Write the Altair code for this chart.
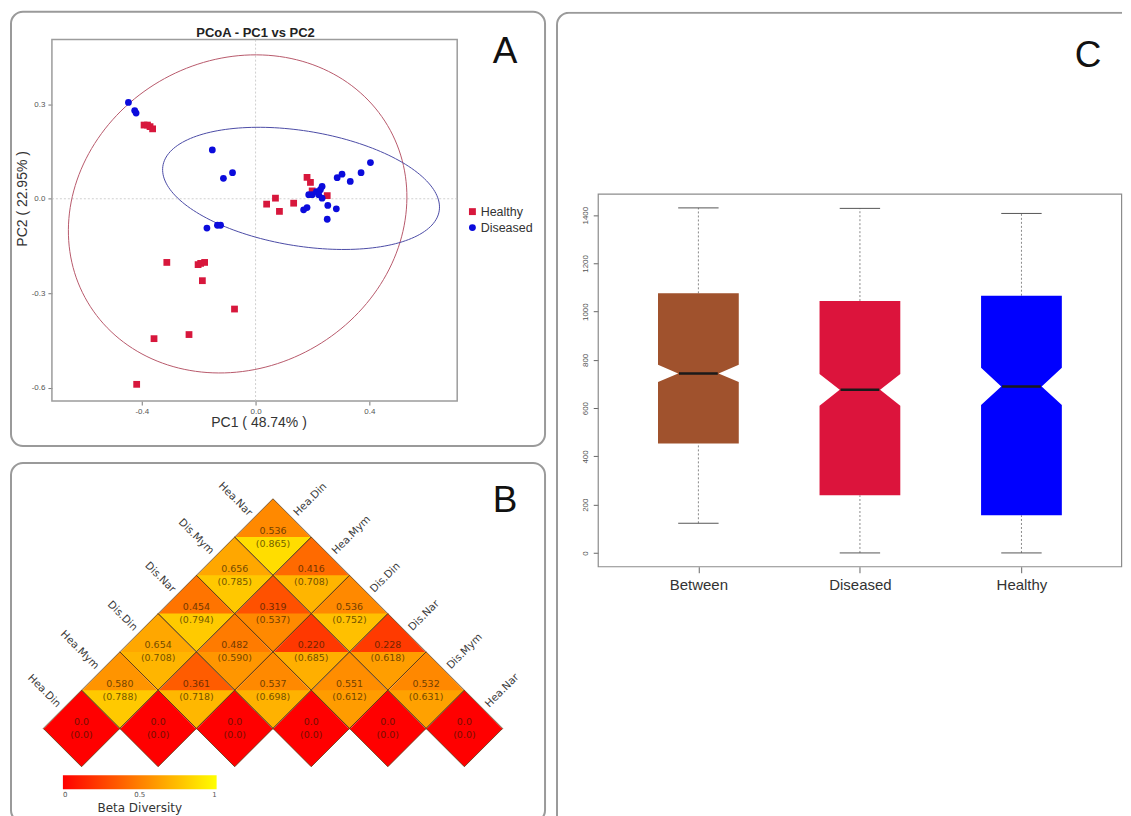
import altair as alt
import numpy as np
import pandas as pd

# ---------------- Panel A : PCoA data ----------------
healthy_pc1 = [-0.392, -0.380, -0.371, -0.362, 0.039, 0.070, 0.084, 0.134, 0.181, 0.193, 0.199, 0.252,
               -0.312, -0.202, -0.193, -0.179, -0.187, -0.074, -0.357, -0.234, -0.418]
healthy_pc2 = [0.234, 0.234, 0.229, 0.222, -0.017, 0.002, -0.040, -0.014, 0.068, 0.052, 0.025, 0.010,
               -0.202, -0.209, -0.205, -0.202, -0.260, -0.350, -0.444, -0.431, -0.589]
diseased_pc1 = [-0.447, -0.425, -0.420, -0.152, -0.113, -0.081, -0.171, -0.134, -0.123,
                0.187, 0.199, 0.214, 0.228, 0.234, 0.222, 0.234, 0.169, 0.181, 0.254, 0.284,
                0.252, 0.287, 0.304, 0.333, 0.371, 0.404]
diseased_pc2 = [0.306, 0.280, 0.272, 0.155, 0.065, 0.083, -0.093, -0.084, -0.084,
                0.013, 0.013, 0.023, 0.029, 0.039, 0.013, 0.002, -0.035, -0.028, -0.021, -0.032,
                -0.065, 0.067, 0.078, 0.055, 0.083, 0.115]
pcoa_groups = ["Healthy", "Diseased"]
pcoa_colors = ["#d7173c", "#0b0bdc"]
ellipse_colors = ["#b8596b", "#4b4ba6"]
ellipse_cx = [-0.063, 0.160]
ellipse_cy = [-0.048, 0.033]
ellipse_a = [0.603, 0.491]
ellipse_b = [0.4955, 0.183]
ellipse_angle = [16.4, -8.1]
pc1_lim = [-0.716, 0.709]
pc2_lim = [-0.642, 0.506]
pc1_ticks = [-0.4, 0.0, 0.4]
pc2_ticks = [-0.6, -0.3, 0.0, 0.3]

# ---------------- Panel B : beta diversity triangle ----------------
sites = ["Hea.Din", "Hea.Mym", "Dis.Din", "Dis.Nar", "Dis.Mym", "Hea.Nar"]
beta_main = [
    [0.0, 0.0, 0.0, 0.0, 0.0, 0.0],
    [0.580, 0.361, 0.537, 0.551, 0.532],
    [0.654, 0.482, 0.220, 0.228],
    [0.454, 0.319, 0.536],
    [0.656, 0.416],
    [0.536],
]
beta_paren = [
    [0.0, 0.0, 0.0, 0.0, 0.0, 0.0],
    [0.788, 0.718, 0.698, 0.612, 0.631],
    [0.708, 0.590, 0.685, 0.618],
    [0.794, 0.537, 0.752],
    [0.785, 0.708],
    [0.865],
]

# ---------------- Panel C : notched boxplots ----------------
box_groups = ["Between", "Diseased", "Healthy"]
box_low = [123, 0, 0]
box_q1 = [454, 239, 156]
box_median = [744, 676, 690]
box_q3 = [1076, 1044, 1066]
box_high = [1430, 1428, 1407]
box_notch = [36, 66, 77]
box_colors = ["#A0522D", "#DC143C", "#0000FF"]
box_ylim = [-57.2, 1487.2]
box_xlim = [0.38, 3.62]
box_yticks = [0, 200, 400, 600, 800, 1000, 1200, 1400]

FONT = "Liberation Sans"
FRAME_COL = "#9a9a9a"
frame = alt.ViewBackground(stroke=FRAME_COL, strokeWidth=2, cornerRadius=12, fill="white")
one = pd.DataFrame({"t": ["x"]})

# =============== Panel A ===============
A_W, A_H = 535, 435
A_left, A_right, A_top, A_bottom = 41, 447, 27.7, 390
sx = (pc1_lim[1] - pc1_lim[0]) / (A_right - A_left)
sy = (pc2_lim[1] - pc2_lim[0]) / (A_bottom - A_top)
xsA = alt.Scale(domain=[pc1_lim[0] - A_left * sx, pc1_lim[1] + (A_W - A_right) * sx], nice=False, zero=False)
ysA = alt.Scale(domain=[pc2_lim[0] - (A_H - A_bottom) * sy, pc2_lim[1] + A_top * sy], nice=False, zero=False)
minus_fix = "replace(format(datum.value, '.1f'), '\u2212', '-')"
axA_x = alt.Axis(values=pc1_ticks, offset=-(A_H - A_bottom), domain=False, grid=False, tickSize=4,
                 tickColor="#777", labelFontSize=8, labelColor="#555", labelPadding=2, labelFlush=False,
                 labelExpr=minus_fix, labelFont=FONT, title="PC1 ( 48.74% )", titleFont=FONT,
                 titleFontSize=14, titleFontWeight="normal", titleColor="#333", titlePadding=1, titleX=248)
axA_y = alt.Axis(values=pc2_ticks, offset=-A_left, domain=False, grid=False, tickSize=4,
                 tickColor="#777", labelFontSize=8, labelColor="#555", labelPadding=3, labelFlush=False,
                 labelAngle=0, labelExpr=minus_fix, labelFont=FONT, title="PC2 ( 22.95% )", titleFont=FONT,
                 titleFontSize=14, titleFontWeight="normal", titleColor="#333", titlePadding=2, titleY=187)


def XA(f):
    return alt.X(f, type="quantitative", scale=xsA, axis=axA_x)


def YA(f):
    return alt.Y(f, type="quantitative", scale=ysA, axis=axA_y)


pts = pd.DataFrame({
    "pc1": healthy_pc1 + diseased_pc1,
    "pc2": healthy_pc2 + diseased_pc2,
    "group": ["Healthy"] * len(healthy_pc1) + ["Diseased"] * len(diseased_pc1),
})

ell_rows = []
t = np.linspace(0, 2 * np.pi, 181)
for g, cx, cy, a, b, ang in zip(pcoa_groups, ellipse_cx, ellipse_cy, ellipse_a, ellipse_b, ellipse_angle):
    th = np.deg2rad(ang)
    ex = cx + a * np.cos(th) * np.cos(t) - b * np.sin(th) * np.sin(t)
    ey = cy + a * np.sin(th) * np.cos(t) + b * np.cos(th) * np.sin(t)
    for i, (u, v) in enumerate(zip(ex, ey)):
        ell_rows.append({"egroup": g, "ex": u, "ey": v, "o": i})
ell = pd.DataFrame(ell_rows)

boxA = pd.DataFrame({"x": [pc1_lim[0]], "x2": [pc1_lim[1]], "y": [pc2_lim[0]], "y2": [pc2_lim[1]]})
zeroA = pd.DataFrame({"x": [0.0], "y": [0.0], "xa": [pc1_lim[0]], "xb": [pc1_lim[1]],
                      "ya": [pc2_lim[0]], "yb": [pc2_lim[1]]})

a_box = alt.Chart(boxA).mark_rect(fillOpacity=0, stroke="#9c9c9c", strokeWidth=1.5).encode(
    x=XA("x"), x2="x2", y=YA("y"), y2="y2")
a_v0 = alt.Chart(zeroA).mark_rule(color="#c4c4c4", strokeDash=[2, 2], strokeWidth=0.8).encode(
    x=XA("x"), y=YA("ya"), y2="yb")
a_h0 = alt.Chart(zeroA).mark_rule(color="#c4c4c4", strokeDash=[2, 2], strokeWidth=0.8).encode(
    x=XA("xa"), x2="xb", y=YA("y"))
ell_layers = []
for g, c in zip(pcoa_groups, ellipse_colors):
    ell_layers.append(
        alt.Chart(ell).transform_filter(alt.datum.egroup == g).mark_line(strokeWidth=1, color=c).encode(
            x=XA("ex"), y=YA("ey"), order="o:Q"))
legA = alt.Legend(orient="none", legendX=456, legendY=194, labelFontSize=12.5, labelFont=FONT,
                  labelColor="#333", symbolSize=48, rowPadding=3, labelOffset=2, title="")
a_pts = alt.Chart(pts).mark_point(filled=True, size=46, opacity=1).encode(
    x=XA("pc1"), y=YA("pc2"),
    color=alt.Color("group:N", scale=alt.Scale(domain=pcoa_groups, range=pcoa_colors), legend=legA),
    shape=alt.Shape("group:N", scale=alt.Scale(domain=pcoa_groups, range=["square", "circle"]),
                    legend=legA))
a_title = alt.Chart(one).mark_text(text="PCoA - PC1 vs PC2", font=FONT, fontSize=13, fontWeight="bold",
                                   color="#222").encode(x=alt.value(245), y=alt.value(21))
a_letter = alt.Chart(one).mark_text(text="A", font=FONT, fontSize=37, color="#111").encode(
    x=alt.value(495), y=alt.value(40))
panelA = alt.layer(a_box, a_v0, a_h0, *ell_layers, a_pts, a_title, a_letter).properties(
    width=A_W, height=A_H, view=frame)

# =============== Panel B ===============
B_W, B_H = 535, 360
U = 76.7
x0B, y0B = 70.7, 266.0
xsB = alt.Scale(domain=[-x0B / U, (B_W - x0B) / U], nice=False, zero=False)
ysB = alt.Scale(domain=[-(B_H - y0B) / U, y0B / U], nice=False, zero=False)
cells = []
for r, (tops, bots) in enumerate(zip(beta_main, beta_paren)):
    for k, (a, b) in enumerate(zip(tops, bots)):
        i, j = k, k + r
        cells.append({
            "cx": (i + j) / 2, "cy": (j - i) / 2, "top": a, "bot": b,
            "ttop": "0.0" if r == 0 else f"{a:.3f}",
            "tbot": "(0.0)" if r == 0 else f"({b:.3f})",
        })
cells = pd.DataFrame(cells)
n = len(sites)
lab_left = pd.DataFrame({"name": sites, "lx": [m / 2 - 0.25 for m in range(n)],
                         "ly": [m / 2 + 0.25 for m in range(n)]})
lab_right = pd.DataFrame({"name": sites, "lx": [k + (n - 1 - k) / 2 + 0.25 for k in range(n)],
                          "ly": [(n - 1 - k) / 2 + 0.25 for k in range(n)]})
fillscale = alt.Scale(domain=[0, 1], range=["#ff0000", "#ffff00"], interpolate="rgb")
legB = alt.Legend(orient="none", legendX=52, legendY=313, direction="horizontal", gradientLength=154,
                  gradientThickness=14, gradientStrokeWidth=0, title="Beta Diversity", titleOrient="bottom",
                  titleAnchor="middle", titleFontSize=12, titleFontWeight="normal", titleColor="#333",
                  titleFont="DejaVu Sans", labelFontSize=7, labelColor="#555", values=[0, 0.5, 1],
                  format="~g", labelFont="DejaVu Sans", titlePadding=5)
SZ = U * U
XB = alt.X("cx:Q", scale=xsB, axis=None)
YB = alt.Y("cy:Q", scale=ysB, axis=None)
b_up = alt.Chart(cells).mark_point(shape="M -1 0.02 L 0 -1 L 1 0.02 Z", size=SZ, filled=True, opacity=1,
                                   strokeWidth=0).encode(
    x=XB, y=YB, fill=alt.Fill("top:Q", scale=fillscale, legend=legB, title="Beta Diversity"))
b_lo = alt.Chart(cells).mark_point(shape="M -1 0 L 1 0 L 0 1 Z", size=SZ, filled=True, opacity=1,
                                   strokeWidth=0).encode(
    x=XB, y=YB, fill=alt.Fill("bot:Q", scale=fillscale, legend=legB, title="Beta Diversity"))
b_out = alt.Chart(cells).mark_point(shape="M -1 0 L 0 -1 L 1 0 L 0 1 Z", size=SZ, filled=False, opacity=1,
                                    color="#5a3a14", strokeWidth=0.8).encode(x=XB, y=YB)
b_t1 = alt.Chart(cells).mark_text(font="DejaVu Sans", fontSize=9.5, color="#2a1800", opacity=0.66,
                                  dy=-6.5).encode(x=XB, y=YB, text="ttop:N")
b_t2 = alt.Chart(cells).mark_text(font="DejaVu Sans", fontSize=9.5, color="#2a1800", opacity=0.66,
                                  dy=6.5).encode(x=XB, y=YB, text="tbot:N")
b_ll = alt.Chart(lab_left).mark_text(font="DejaVu Sans", fontSize=10.5, color="#3a3a3a", angle=45,
                                     align="right", baseline="middle", dx=-5).encode(
    x=alt.X("lx:Q", scale=xsB, axis=None), y=alt.Y("ly:Q", scale=ysB, axis=None), text="name:N")
b_lr = alt.Chart(lab_right).mark_text(font="DejaVu Sans", fontSize=10.5, color="#3a3a3a", angle=315,
                                      align="left", baseline="middle", dx=5).encode(
    x=alt.X("lx:Q", scale=xsB, axis=None), y=alt.Y("ly:Q", scale=ysB, axis=None), text="name:N")
b_letter = alt.Chart(one).mark_text(text="B", font=FONT, fontSize=37, color="#111").encode(
    x=alt.value(495), y=alt.value(38))
panelB = alt.layer(b_up, b_lo, b_out, b_t1, b_t2, b_ll, b_lr, b_letter).properties(
    width=B_W, height=B_H, view=frame)

# =============== Panel C ===============
C_W, C_H = 567, 815
C_left, C_right, C_top, C_bottom = 42.3, 566.6, 182.7, 556.0
sxC = (box_xlim[1] - box_xlim[0]) / (C_right - C_left)
syC = (box_ylim[1] - box_ylim[0]) / (C_bottom - C_top)
xsC = alt.Scale(domain=[box_xlim[0] - C_left * sxC, box_xlim[1] + (C_W - C_right) * sxC], nice=False, zero=False)
ysC = alt.Scale(domain=[box_ylim[0] - (C_H - C_bottom) * syC, box_ylim[1] + C_top * syC], nice=False, zero=False)
name_arr = "['', " + ", ".join(f"'{g}'" for g in box_groups) + "]"
axC_x = alt.Axis(values=[1, 2, 3], offset=-(C_H - C_bottom), domain=False, grid=False, tickSize=6,
                 tickColor="#666", labelExpr=f"{name_arr}[datum.value]", labelFontSize=15, labelFont=FONT,
                 labelColor="#333", labelPadding=5, labelFlush=False, title=None)
axC_y = alt.Axis(values=box_yticks, offset=-C_left, domain=False, grid=False, tickSize=5, tickColor="#666",
                 labelAngle=270, labelFontSize=8, labelFont=FONT, labelColor="#555", labelPadding=4,
                 labelFlush=False, format="d", title=None)


def XC(f):
    return alt.X(f, type="quantitative", scale=xsC, axis=axC_x)


def YC(f):
    return alt.Y(f, type="quantitative", scale=ysC, axis=axC_y)


HW = 0.25
area_rows, whisk_rows, cap_rows, med_rows = [], [], [], []
for p, (g, lo, q1, md, q3, hi, nt) in enumerate(zip(box_groups, box_low, box_q1, box_median, box_q3,
                                                    box_high, box_notch), start=1):
    for yv, f in [(q1, 1.0), (md - nt, 1.0), (md, 0.5), (md + nt, 1.0), (q3, 1.0)]:
        area_rows.append({"group": g, "yv": yv, "xl": p - HW * f, "xr": p + HW * f})
    whisk_rows.append({"pos": p, "ya": q3, "yb": hi})
    whisk_rows.append({"pos": p, "ya": lo, "yb": q1})
    cap_rows.append({"xl": p - HW / 2, "xr": p + HW / 2, "yv": hi})
    cap_rows.append({"xl": p - HW / 2, "xr": p + HW / 2, "yv": lo})
    med_rows.append({"xl": p - HW * 0.48, "xr": p + HW * 0.48, "yv": md})
area_df = pd.DataFrame(area_rows)
boxC = pd.DataFrame({"x": [box_xlim[0]], "x2": [box_xlim[1]], "y": [box_ylim[0]], "y2": [box_ylim[1]]})

c_frame = alt.Chart(one).mark_rect(clip=True, cornerRadius=12, fillOpacity=0, stroke=FRAME_COL,
                                   strokeWidth=2).encode(
    x=alt.value(1), x2=alt.value(C_W + 40), y=alt.value(1), y2=alt.value(C_H + 40))
c_box = alt.Chart(boxC).mark_rect(fillOpacity=0, stroke="#8c8c8c", strokeWidth=1.2).encode(
    x=XC("x"), x2="x2", y=YC("y"), y2="y2")
c_wh = alt.Chart(pd.DataFrame(whisk_rows)).mark_rule(color="#8a8a8a", strokeDash=[2, 2], strokeWidth=1).encode(
    x=XC("pos"), y=YC("ya"), y2="yb")
c_cap = alt.Chart(pd.DataFrame(cap_rows)).mark_rule(color="#555", strokeWidth=1).encode(
    x=XC("xl"), x2="xr", y=YC("yv"))
c_area = alt.Chart(area_df).mark_area(orient="horizontal", opacity=1, interpolate="linear").encode(
    y=YC("yv"), x=XC("xl"), x2="xr",
    color=alt.Color("group:N", scale=alt.Scale(domain=box_groups, range=box_colors), legend=None))
c_med = alt.Chart(pd.DataFrame(med_rows)).mark_rule(color="#1a1a1a", strokeWidth=2.5).encode(
    x=XC("xl"), x2="xr", y=YC("yv"))
c_letter = alt.Chart(one).mark_text(text="C", font=FONT, fontSize=37, color="#111").encode(
    x=alt.value(533), y=alt.value(44))
panelC = alt.layer(c_box, c_wh, c_cap, c_area, c_med, c_letter, c_frame).properties(
    width=C_W, height=C_H, view=alt.ViewBackground(fill="white", stroke="transparent", strokeWidth=0))

left = alt.vconcat(panelA, panelB, spacing=15).resolve_scale(
    color="independent", fill="independent", shape="independent")
chart = alt.hconcat(left, panelC, spacing=10).resolve_scale(
    color="independent", fill="independent", shape="independent").properties(
    padding={"left": 2, "top": 2, "right": 0, "bottom": 0}, background="white"
).configure(font=FONT)

chart.save("out.html", embed_options={"renderer": "svg", "actions": False})
